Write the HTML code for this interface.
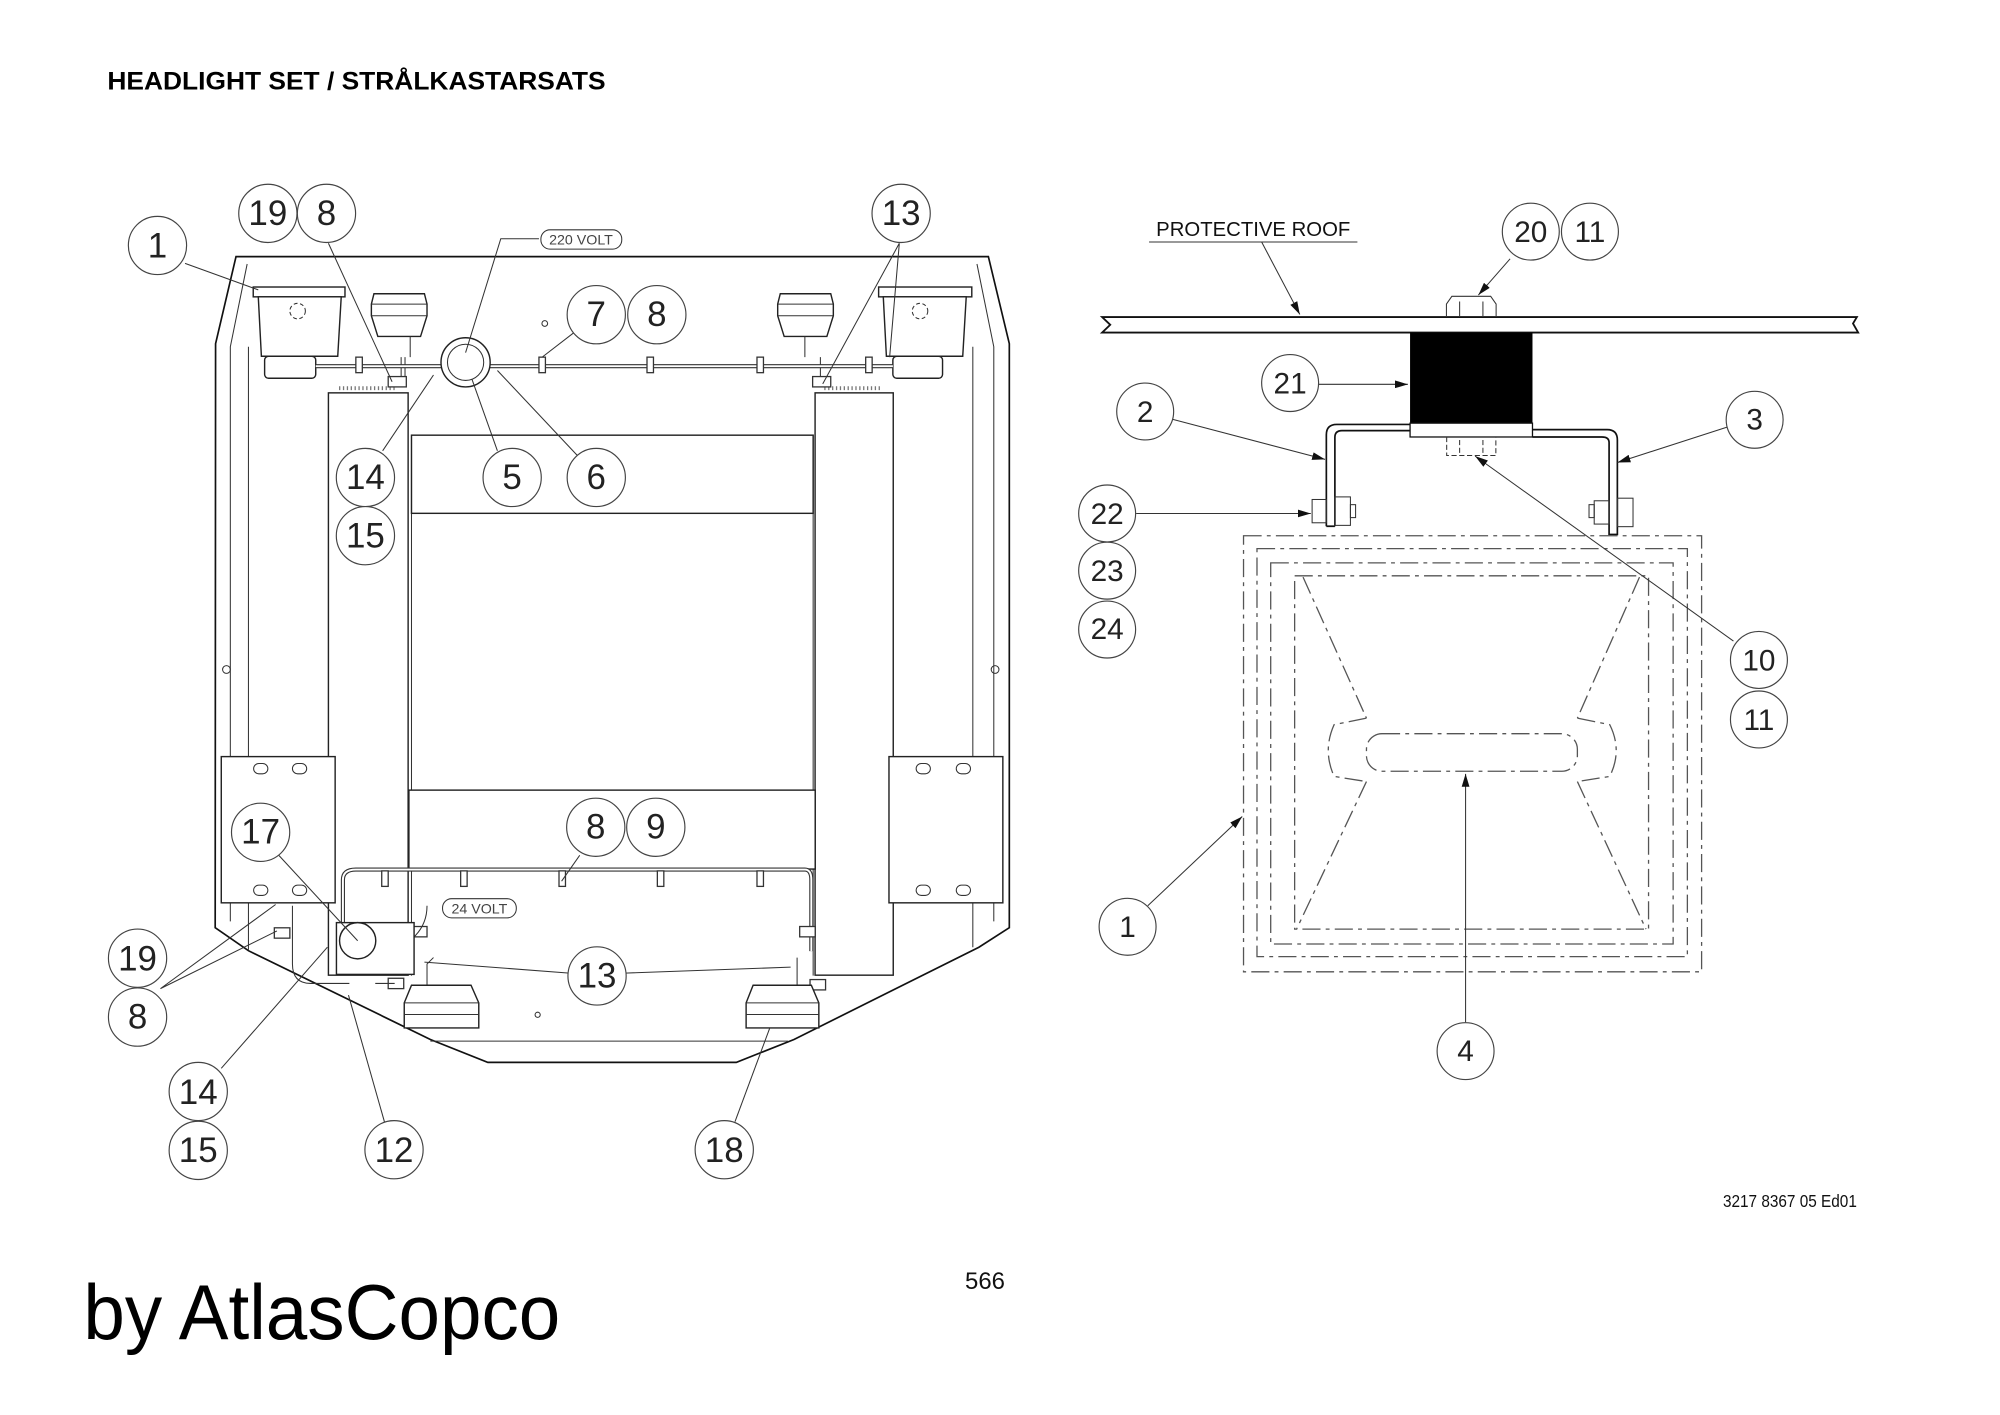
<!DOCTYPE html>
<html><head><meta charset="utf-8"><style>
html,body{margin:0;padding:0;background:#fff;}
svg{display:block;}
.c{fill:#fff;stroke:#444;stroke-width:0.9;}
.n{font-family:"Liberation Sans Narrow","Liberation Sans",sans-serif;font-size:27px;fill:#222;text-anchor:middle;}
.r{font-family:"Liberation Sans",sans-serif;font-size:23px;fill:#222;text-anchor:middle;}
.l{stroke:#333;stroke-width:0.8;fill:none;}
.k{stroke:#111;stroke-width:1.3;fill:none;}
.w{stroke:#222;stroke-width:1.1;fill:#fff;}
.d1{stroke:#555;stroke-width:1;fill:none;stroke-dasharray:14 4 3 4;}
</style></head><body>
<svg width="2000" height="1415" viewBox="0 0 1545.6 1093.5" preserveAspectRatio="none" xmlns="http://www.w3.org/2000/svg">
<defs><marker id="a" viewBox="0 0 10 6" refX="10" refY="3" markerWidth="10" markerHeight="6" orient="auto" markerUnits="userSpaceOnUse"><path d="M0,0 L10,3 L0,6 z" fill="#111"/></marker></defs>

<text x="83" y="69" font-family="Liberation Sans,sans-serif" font-weight="bold" font-size="19" textLength="385" lengthAdjust="spacingAndGlyphs">HEADLIGHT SET / STRÅLKASTARSATS</text>

<!-- LEFT FRAME -->
<path class="k" d="M182.4,198.3 L763.8,198.3 L780,265.6 L780,716.9 L756.5,732 L613.6,803.3 L569,821 L377,821 L332.6,803.3 L192,734.7 L166.3,716.9 L166.6,265.6 Z"/>
<path class="l" d="M191,204 L178,268 L178,712 M192,268 L192,734 M751.8,268 L751.8,732 M755,204 L768,268 L768,712 M332.6,804.6 L609,804.6"/>
<circle cx="175" cy="517.4" r="3" class="l"/><circle cx="769" cy="517.4" r="3" class="l"/>
<!-- columns -->
<rect x="253.8" y="303.6" width="61.6" height="450" class="w"/>
<rect x="629.9" y="303.6" width="60.4" height="450" class="w"/>
<path class="l" d="M318,336 L318,754 M628.4,336 L628.4,754"/>
<rect x="318" y="336.3" width="310.4" height="60.4" class="w"/>
<rect x="316" y="610.6" width="314" height="61" class="w"/>
<path d="M262,300 l45,0 M637,300 l45,0" stroke="#777" stroke-width="3" stroke-dasharray="1 2"/>
<!-- plates -->
<rect x="171" y="584.7" width="88" height="113" class="w"/>
<rect x="687" y="584.7" width="88" height="113" class="w"/>
<g class="l" stroke-width="1.2">
<rect x="196" y="590" width="11" height="8" rx="4"/><rect x="226" y="590" width="11" height="8" rx="4"/>
<rect x="196" y="684" width="11" height="8" rx="4"/><rect x="226" y="684" width="11" height="8" rx="4"/>
<rect x="708" y="590" width="11" height="8" rx="4"/><rect x="739" y="590" width="11" height="8" rx="4"/>
<rect x="708" y="684" width="11" height="8" rx="4"/><rect x="739" y="684" width="11" height="8" rx="4"/>
</g>
<!-- top headlights -->
<g class="w" stroke-width="1.2">
<rect x="195.7" y="221.8" width="70.9" height="7.6"/>
<path d="M199.6,229.4 L263.7,229.4 L261,275.3 L202,275.3 Z"/>
<rect x="204.5" y="275.3" width="39.5" height="17" rx="3"/>
<rect x="679" y="221.8" width="72" height="7.6"/>
<path d="M682.6,229.4 L746.7,229.4 L744,275.3 L685,275.3 Z"/>
<rect x="690" y="275.3" width="38.4" height="17" rx="3"/>
<path d="M289,227 L328,227 L330,235 L330,244 L325,260 L292,260 L287,244 L287,235 Z"/>
<path d="M603,227 L642,227 L644,235 L644,244 L639,260 L606,260 L601,244 L601,235 Z"/>
</g>
<path class="l" d="M287,235 L330,235 M601,235 L644,235 M287,244 L330,244 M601,244 L644,244"/>
<circle cx="230" cy="240.4" r="6" class="l" stroke-dasharray="3 2"/><circle cx="711" cy="240.4" r="6" class="l" stroke-dasharray="3 2"/>
<path class="l" d="M317,260 L317,276 M622,260 L622,276 M310,276 L310,296 M313,276 L313,296 M634,276 L634,296"/>
<!-- top wire -->
<path d="M244,283 L345,283 M375,283 L690,283" stroke="#333" stroke-width="3.2"/>
<path d="M244,283 L345,283 M375,283 L690,283" stroke="#fff" stroke-width="1.5"/>
<g fill="#fff" stroke="#333" stroke-width="1"><rect x="275" y="276" width="5" height="12"/><rect x="416.5" y="276" width="5" height="12"/><rect x="500" y="276" width="5" height="12"/><rect x="585" y="276" width="5" height="12"/><rect x="669" y="276" width="5" height="12"/>
<rect x="300" y="291" width="14" height="8"/><rect x="628" y="291" width="14" height="8"/></g>
<circle cx="421" cy="250" r="2.2" class="l"/>
<circle cx="359.8" cy="280" r="19" class="w"/><circle cx="359.8" cy="280" r="14" class="l"/>
<rect x="418" y="177.6" width="62.5" height="14.9" rx="7" class="l"/>
<text x="449" y="189" font-family="Liberation Sans Narrow,Liberation Sans,sans-serif" font-size="11" text-anchor="middle" fill="#444">220 VOLT</text>
<!-- bottom wire -->
<path d="M265,720 L265,680 Q265,672 275,672 L622,672 Q627,672 627,680 L627,735" stroke="#333" stroke-width="3.2" fill="none"/>
<path d="M265,720 L265,680 Q265,672 275,672 L622,672 Q627,672 627,680 L627,735" stroke="#fff" stroke-width="1.5" fill="none"/>
<g fill="#fff" stroke="#333" stroke-width="1"><rect x="295" y="673" width="5" height="12"/><rect x="356" y="673" width="5" height="12"/><rect x="432" y="673" width="5" height="12"/><rect x="508" y="673" width="5" height="12"/><rect x="585" y="673" width="5" height="12"/>
<rect x="212" y="717" width="12" height="8"/><rect x="318" y="716" width="12" height="8"/><rect x="618" y="716" width="12" height="8"/><rect x="300" y="756" width="12" height="8"/><rect x="626" y="757" width="12" height="8"/></g>
<path class="l" d="M226,700 L226,745 Q226,760 240,760 L270,760 M286,740 Q330,730 330,700 M290,760 L305,760 M335,740 L330,745 L330,765 M616,740 L616,765"/>
<rect x="260" y="713" width="60" height="40" class="w"/>
<circle cx="276.4" cy="727" r="14" class="w"/>
<rect x="342" y="694.5" width="57" height="14.8" rx="7" class="l"/>
<text x="370.5" y="706" font-family="Liberation Sans Narrow,Liberation Sans,sans-serif" font-size="11" text-anchor="middle" fill="#444">24 VOLT</text>
<!-- bottom lamps -->
<g class="w" stroke-width="1.2">
<path d="M318,761.4 L364,761.4 L370,775 L370,794.4 L312.4,794.4 L312.4,775 Z"/>
<path d="M582,761.4 L627,761.4 L632.8,775 L632.8,794.4 L576.6,794.4 L576.6,775 Z"/>
</g>
<path class="l" d="M312.4,775 L370,775 M312.4,784 L370,784 M576.6,775 L632.8,775 M576.6,784 L632.8,784"/>
<circle cx="415.5" cy="784.2" r="2" class="l"/>

<!-- LEFT CALLOUT LEADERS -->
<g class="l">
<path d="M143,203.5 L199.6,224"/>
<path d="M253.8,188 L303,295"/>
<path d="M416.5,184.5 L387,184.5 L359.8,272.5"/>
<path d="M695,188 L635.8,296.7 M695,188 L687.5,276"/>
<path d="M443.6,257 L419,276"/>
<path d="M295.7,348.4 L335,289.8"/>
<path d="M384.4,348.4 L364.7,293"/>
<path d="M446,351.8 L384.4,286.3"/>
<path d="M215.5,661 L276.4,727"/>
<path d="M448,661 L434,681"/>
<path d="M124,764 L213,699 M124,764 L214,719.4"/>
<path d="M440,752 L328,743.5 M483,752 L611,747.4"/>
<path d="M171,825.6 L253,732"/>
<path d="M297.4,868 L269.3,769"/>
<path d="M568,866.8 L594.9,794.4"/>
</g>
<!-- LEFT CALLOUTS -->
<g>
<circle class="c" cx="121.7" cy="189.7" r="22.5"/><text class="n" x="121.7" y="199">1</text>
<circle class="c" cx="207" cy="164.9" r="22.5"/><text class="n" x="207" y="174">19</text>
<circle class="c" cx="252.3" cy="164.9" r="22.5"/><text class="n" x="252.3" y="174">8</text>
<circle class="c" cx="696.4" cy="164.9" r="22.5"/><text class="n" x="696.4" y="174">13</text>
<circle class="c" cx="460.8" cy="243.2" r="22.5"/><text class="n" x="460.8" y="252">7</text>
<circle class="c" cx="507.6" cy="243.2" r="22.5"/><text class="n" x="507.6" y="252">8</text>
<circle class="c" cx="282.4" cy="369" r="22.5"/><text class="n" x="282.4" y="378">14</text>
<circle class="c" cx="282.4" cy="414" r="22.5"/><text class="n" x="282.4" y="423">15</text>
<circle class="c" cx="395.8" cy="369" r="22.5"/><text class="n" x="395.8" y="378">5</text>
<circle class="c" cx="460.8" cy="369" r="22.5"/><text class="n" x="460.8" y="378">6</text>
<circle class="c" cx="201.4" cy="643.2" r="22.5"/><text class="n" x="201.4" y="652">17</text>
<circle class="c" cx="460.4" cy="639.3" r="22.5"/><text class="n" x="460.4" y="648">8</text>
<circle class="c" cx="506.8" cy="639.3" r="22.5"/><text class="n" x="506.8" y="648">9</text>
<circle class="c" cx="106.3" cy="740.5" r="22.5"/><text class="n" x="106.3" y="750">19</text>
<circle class="c" cx="106.3" cy="786" r="22.5"/><text class="n" x="106.3" y="795">8</text>
<circle class="c" cx="461.4" cy="754.2" r="22.5"/><text class="n" x="461.4" y="763">13</text>
<circle class="c" cx="153.2" cy="843.5" r="22.5"/><text class="n" x="153.2" y="853">14</text>
<circle class="c" cx="153.2" cy="889" r="22.5"/><text class="n" x="153.2" y="898">15</text>
<circle class="c" cx="304.5" cy="888.5" r="22.5"/><text class="n" x="304.5" y="898">12</text>
<circle class="c" cx="559.7" cy="888.5" r="22.5"/><text class="n" x="559.7" y="898">18</text>
</g>

<!-- RIGHT DRAWING -->
<text x="893.5" y="182.4" font-family="Liberation Sans,sans-serif" font-size="16" fill="#111" textLength="150" lengthAdjust="spacingAndGlyphs">PROTECTIVE ROOF</text>
<path class="l" d="M888,187 L1049,187"/>
<path class="l" d="M975,187 L1004.5,243" marker-end="url(#a)"/>
<path d="M851.7,245 L1435,245 L1432,250 L1436,257 L851.7,257 L858,251 Z" fill="#fff" stroke="#111" stroke-width="1.4"/>
<path d="M1117.8,245 L1117.8,235 L1122,229 L1152,229 L1156.2,235 L1156.2,245" class="l" stroke-width="1"/>
<path class="l" d="M1128,233 L1128,245 M1146,233 L1146,245"/>
<rect x="1089.7" y="257" width="94.6" height="70" fill="#000"/>
<rect x="1089.7" y="327" width="94.6" height="10.7" fill="#fff" stroke="#111" stroke-width="1"/>
<path d="M1025,406.7 L1025,336 Q1025,328 1033,328 L1089.7,328 M1031.6,406.7 L1031.6,338 Q1031.6,332.8 1037,332.8 L1089.7,332.8 M1184.3,332 L1242,332 Q1249.9,332 1249.9,340 L1249.9,413 L1243.5,413 L1243.5,342 Q1243.5,337.7 1238,337.7 L1184.3,337.7 M1025,406.7 L1031.6,406.7" fill="none" stroke="#111" stroke-width="1.3"/>
<g class="l" stroke-width="0.8">
<rect x="1014" y="386" width="11" height="18"/><rect x="1031.6" y="384" width="12" height="22"/><rect x="1043.6" y="390" width="4" height="10"/>
<rect x="1232" y="387" width="11.5" height="18"/><rect x="1250" y="385" width="12" height="22"/><rect x="1228" y="390" width="4" height="10"/>
<path d="M1118,337.7 L1118,352 L1156,352 L1156,337.7 M1128,340 L1128,352 M1146,340 L1146,352" stroke-dasharray="4 2"/>
</g>
<!-- lamp housing -->
<rect class="d1" x="961" y="414" width="354" height="337"/>
<rect class="d1" x="971.4" y="424" width="332.6" height="315.3"/>
<rect class="d1" x="982" y="435" width="311" height="294.5"/>
<rect class="d1" x="1000.5" y="445" width="273.5" height="273"/>
<path class="d1" d="M1007,446 L1056,555 M1056,604 L1002,718 M1267,446 L1219,555 M1219,604 L1272,718"/>
<path class="d1" d="M1056,555 L1031,560 Q1022,580 1031,600 L1056,604 M1219,555 L1244,560 Q1254,580 1244,600 L1219,604"/>
<rect class="d1" x="1056" y="567" width="163" height="29" rx="12"/>
<!-- right leaders -->
<g class="l">
<path d="M1167,200 L1142.5,228" marker-end="url(#a)"/>
<path d="M1019,297 L1088,297" marker-end="url(#a)"/>
<path d="M906,324 L1024,355" marker-end="url(#a)"/>
<path d="M1335,330 L1250,357.4" marker-end="url(#a)"/>
<path d="M878,396.8 L1013,396.8" marker-end="url(#a)"/>
<path d="M1339.6,495.4 L1140,352.5" marker-end="url(#a)"/>
<path d="M887,700 L960,631" marker-end="url(#a)"/>
<path d="M1132.6,790 L1132.6,598" marker-end="url(#a)"/>
</g>
<g>
<circle class="c" cx="1183" cy="179" r="22"/><text class="r" x="1183" y="187">20</text>
<circle class="c" cx="1228.7" cy="179" r="22"/><text class="r" x="1228.7" y="187">11</text>
<circle class="c" cx="997" cy="296" r="22"/><text class="r" x="997" y="304">21</text>
<circle class="c" cx="885" cy="318" r="22"/><text class="r" x="885" y="326">2</text>
<circle class="c" cx="1356" cy="324.4" r="22"/><text class="r" x="1356" y="332">3</text>
<circle class="c" cx="855.6" cy="396.8" r="22"/><text class="r" x="855.6" y="405">22</text>
<circle class="c" cx="855.6" cy="441" r="22"/><text class="r" x="855.6" y="449">23</text>
<circle class="c" cx="855.6" cy="486.5" r="22"/><text class="r" x="855.6" y="494">24</text>
<circle class="c" cx="1359.3" cy="510" r="22"/><text class="r" x="1359.3" y="518">10</text>
<circle class="c" cx="1359.3" cy="556" r="22"/><text class="r" x="1359.3" y="564">11</text>
<circle class="c" cx="871.4" cy="716.2" r="22"/><text class="r" x="871.4" y="724">1</text>
<circle class="c" cx="1132.6" cy="812.3" r="22"/><text class="r" x="1132.6" y="820">4</text>
</g>

<text x="1331.5" y="932.7" font-family="Liberation Sans,sans-serif" font-size="13.5" fill="#111" textLength="103.5" lengthAdjust="spacingAndGlyphs">3217 8367 05 Ed01</text>
<text x="745.8" y="996" font-family="Liberation Sans,sans-serif" font-size="18.5" fill="#111">566</text>
<text x="64.4" y="1034.8" font-family="Liberation Sans,sans-serif" font-size="60" fill="#000" textLength="368.6" lengthAdjust="spacingAndGlyphs">by AtlasCopco</text>
</svg>
</body></html>
